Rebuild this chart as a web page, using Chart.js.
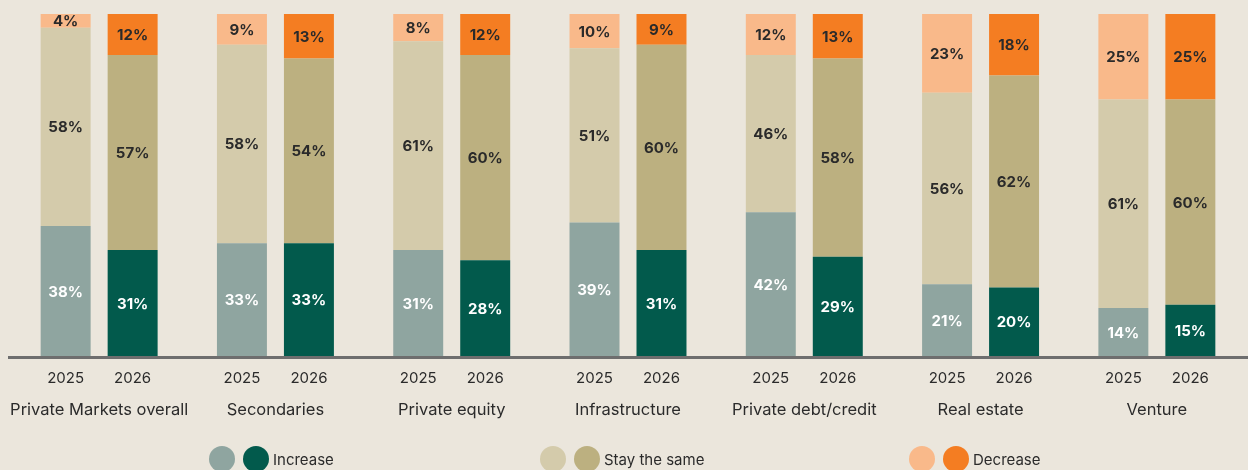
<!DOCTYPE html>
<html>
<head>
<meta charset="utf-8">
<script src="https://cdn.jsdelivr.net/npm/chart.js@4"></script>
<style>
  body { margin: 0; background: #ebe6dc; }
  canvas { display: block; }
</style>
</head>
<body>
<canvas id="myChart" width="1248" height="470"></canvas>
<script>
const categories = ['Private Markets overall', 'Secondaries', 'Private equity', 'Infrastructure', 'Private debt/credit', 'Real estate', 'Venture'];
const years = ['2025', '2026'];

const increase2025 = [38, 33, 31, 39, 42, 21, 14];
const same2025 = [58, 58, 61, 51, 46, 56, 61];
const decrease2025 = [4, 9, 8, 10, 12, 23, 25];

const increase2026 = [31, 33, 28, 31, 29, 20, 15];
const same2026 = [57, 54, 60, 60, 58, 62, 60];
const decrease2026 = [12, 13, 12, 9, 13, 18, 25];

const legendNames = ['Increase', 'Stay the same', 'Decrease'];

const FONT = 'Inter, "Noto Sans", sans-serif';

function ds(label, data, stack, color, textColor) {
  return { label: label, data: data, stack: stack, backgroundColor: color, borderWidth: 0, textColor: textColor };
}

const chartData = {
  labels: categories,
  datasets: [
    ds('Increase', increase2025, years[0], '#8fa5a0', '#ffffff'),
    ds('Stay the same', same2025, years[0], '#d4cbab', '#2a2a2a'),
    ds('Decrease', decrease2025, years[0], '#f9b98a', '#2a2a2a'),
    ds('Increase', increase2026, years[1], '#025a4c', '#ffffff'),
    ds('Stay the same', same2026, years[1], '#bcb080', '#2a2a2a'),
    ds('Decrease', decrease2026, years[1], '#f47d22', '#2a2a2a')
  ]
};

// values inside each segment, year + category labels under the axis, legend
const labelsPlugin = {
  id: 'labels',
  afterDatasetsDraw(chart) {
    const { ctx, chartArea } = chart;
    ctx.save();
    ctx.textAlign = 'center';
    ctx.textBaseline = 'middle';
    ctx.font = 'bold 15px ' + FONT;
    chart.data.datasets.forEach((d, i) => {
      const meta = chart.getDatasetMeta(i);
      meta.data.forEach((bar, j) => {
        ctx.fillStyle = d.textColor;
        ctx.fillText(d.data[j] + '%', bar.x, (bar.y + bar.base) / 2 + 1);
      });
    });

    // baseline
    ctx.fillStyle = '#6e6e6e';
    ctx.fillRect(8, chartArea.bottom, 1240, 3);

    ctx.fillStyle = '#2b2b2b';
    ctx.font = '15px ' + FONT;
    const m0 = chart.getDatasetMeta(0), m3 = chart.getDatasetMeta(3);
    const xScale = chart.scales.x;
    categories.forEach((c, j) => {
      ctx.fillText(years[0], m0.data[j].x, 378);
      ctx.fillText(years[1], m3.data[j].x, 378);
    });
    ctx.font = '16.5px ' + FONT;
    categories.forEach((c, j) => {
      ctx.fillText(c, xScale.getPixelForValue(j), 410);
    });

    // legend with both year colours per item
    const legendX = [222, 553, 922];
    ctx.textAlign = 'left';
    ctx.font = '15px ' + FONT;
    legendNames.forEach((name, k) => {
      const x = legendX[k];
      [chart.data.datasets[k], chart.data.datasets[k + 3]].forEach((d, n) => {
        ctx.beginPath();
        ctx.fillStyle = d.backgroundColor;
        ctx.arc(x + n * 34, 459, 13, 0, Math.PI * 2);
        ctx.fill();
      });
      ctx.fillStyle = '#2b2b2b';
      ctx.fillText(name, x + 51, 460);
    });
    ctx.restore();
  }
};

new Chart(document.getElementById('myChart'), {
  type: 'bar',
  data: chartData,
  plugins: [labelsPlugin],
  options: {
    responsive: false,
    animation: false,
    categoryPercentage: 0.76,
    barPercentage: 0.746,
    layout: { padding: { left: 11, right: 3, top: 14, bottom: 114 } },
    plugins: { legend: { display: false }, tooltip: { enabled: false } },
    scales: {
      x: { stacked: true, display: false },
      y: { stacked: true, display: false, min: 0, max: 100 }
    }
  }
});
</script>
</body>
</html>
